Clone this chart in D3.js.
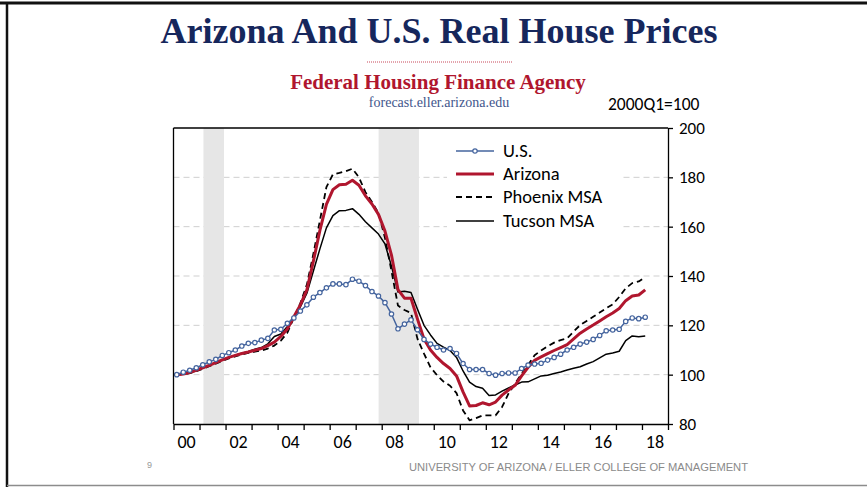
<!DOCTYPE html>
<html>
<head>
<meta charset="utf-8">
<script src="https://cdn.jsdelivr.net/npm/d3@7/dist/d3.min.js"></script>
<style>
  html, body { margin: 0; padding: 0; background: #fff; }
  svg { display: block; }
  .calib { font-family: Carlito, Lato, "Open Sans", sans-serif; fill: #000; }
  .serif { font-family: "Liberation Serif", "Times New Roman", serif; }
</style>
</head>
<body>
<svg id="chart" width="867" height="487"></svg>
<script>
// quarterly index, 2000Q1 = 100, 2000Q1 .. 2018Q1
var startYear = 2000;
var xTickLabels = ['00', '02', '04', '06', '08', '10', '12', '14', '16', '18'];
var yTickValues = [80, 100, 120, 140, 160, 180, 200];
var gridValues = [100, 120, 140, 160, 180];
var recessions = [[2001.15, 2001.94], [2007.88, 2009.43]];

var usValues = [
  100.0, 101.0, 101.8, 102.8, 104.0, 105.2, 106.2, 107.8, 108.9, 110.0,
  111.6, 112.7, 113.0, 114.0, 114.7, 118.1, 118.4, 120.8, 123.0, 125.8,
  128.3, 131.4, 133.3, 135.2, 136.8, 136.8, 136.5, 138.7, 137.9, 136.1,
  133.7, 131.9, 129.2, 124.6, 118.6, 120.5, 122.2, 118.2, 114.3, 112.4,
  111.1, 110.0, 110.6, 108.6, 104.5, 102.1, 102.1, 102.1, 100.5, 99.8,
  100.5, 100.7, 100.7, 102.5, 103.9, 104.3, 104.6, 105.9, 107.0, 108.3,
  110.0, 111.1, 112.4, 113.2, 114.3, 115.9, 117.8, 118.1, 118.4, 121.6,
  123.0, 122.7, 123.3
];
var arizonaValues = [
  100.0, 100.3, 100.9, 101.8, 102.8, 103.8, 104.9, 106.0, 107.0, 107.8,
  108.6, 109.2, 109.9, 110.6, 111.8, 113.2, 115.5, 118.5, 123.5, 128.3,
  134.4, 146.0, 158.5, 169.0, 175.0, 177.0, 177.2, 178.8, 176.8, 172.5,
  169.2, 165.0, 158.2, 148.5, 134.5, 131.0, 131.0, 122.5, 114.5, 110.0,
  107.0, 104.5, 102.5, 99.5, 93.0, 87.3, 87.5, 88.6, 87.8, 88.9,
  91.7, 93.8, 95.7, 99.5, 103.0, 105.8, 107.2, 108.5, 109.8, 111.0,
  112.2, 114.5, 116.8, 118.5, 120.1, 121.8, 123.5, 125.0, 126.8, 130.0,
  131.9, 132.3, 134.4
];
var phoenixValues = [
  100.0, 100.2, 100.6, 101.4, 102.4, 103.4, 104.5, 105.6, 106.6, 107.4,
  108.2, 108.8, 109.3, 109.8, 110.6, 111.8, 113.8, 117.0, 123.0, 129.0,
  136.5, 149.0, 162.5, 176.0, 181.2, 181.8, 182.5, 183.5, 180.0, 174.0,
  170.0, 165.5, 155.5, 142.0, 128.0, 126.2, 125.0, 114.5, 108.5, 103.0,
  99.8, 97.2, 95.5, 92.5, 85.5, 81.5, 82.4, 83.5, 83.5, 83.5,
  86.9, 92.4, 96.4, 100.3, 103.9, 107.9, 109.8, 111.5, 113.0, 114.0,
  114.7, 117.5, 120.1, 121.8, 123.5, 125.2, 126.9, 128.5, 131.5, 135.0,
  137.1, 137.8, 139.5
];
var tucsonValues = [
  100.0, 100.2, 100.7, 101.6, 102.7, 103.8, 104.9, 106.0, 107.0, 107.9,
  108.7, 109.4, 110.3, 111.0, 112.5, 115.5, 116.5, 119.5, 123.0, 127.5,
  133.0, 142.0, 151.0, 159.5, 164.5, 166.5, 166.6, 167.3, 165.0, 162.0,
  159.5, 157.0, 153.0, 144.0, 133.5, 133.8, 133.3, 126.5, 120.0, 116.1,
  112.7, 111.2, 109.8, 107.0, 101.5, 97.0, 95.2, 94.5, 91.6, 91.8,
  93.3, 94.6, 95.8, 97.0, 97.1, 98.3, 99.5, 99.8, 100.5, 101.1,
  101.9, 102.6, 103.2, 104.3, 105.3, 106.8, 108.3, 108.8, 109.5, 113.8,
  115.7, 115.4, 115.7
];

var seriesList = [
  { name: 'U.S.', values: usValues, color: '#44649e', width: 1.5, dash: null, markers: true },
  { name: 'Arizona', values: arizonaValues, color: '#b0162e', width: 3, dash: null, markers: false },
  { name: 'Phoenix MSA', values: phoenixValues, color: '#000', width: 1.8, dash: '6,4', markers: false },
  { name: 'Tucson MSA', values: tucsonValues, color: '#000', width: 1.5, dash: null, markers: false }
];

var svg = d3.select('#chart');
var plot = { left: 173.5, right: 668, top: 128, bottom: 424 };

var x = d3.scaleLinear().domain([startYear, 2019]).range([plot.left, plot.right]);
var y = d3.scaleLinear().domain([80, 200]).range([plot.bottom, plot.top]);

// quarter i sits in the middle of its quarter
function qTime(i) { return startYear + i / 4 + 0.125; }

// ---- page frame ----
svg.append('line').attr('x1', 0).attr('x2', 867).attr('y1', 3).attr('y2', 3)
  .attr('stroke', '#111').attr('stroke-width', 3);
svg.append('line').attr('x1', 7).attr('x2', 7).attr('y1', 2).attr('y2', 487)
  .attr('stroke', '#111').attr('stroke-width', 2.5);
svg.append('line').attr('x1', 7).attr('x2', 867).attr('y1', 485.5).attr('y2', 485.5)
  .attr('stroke', '#8c8c8c').attr('stroke-width', 1.5);

// ---- titles ----
svg.append('text').attr('class', 'serif')
  .attr('x', 439).attr('y', 43).attr('text-anchor', 'middle')
  .attr('font-size', 36).attr('font-weight', 'bold').attr('fill', '#16275c')
  .text('Arizona And U.S. Real House Prices');

svg.append('line').attr('x1', 367).attr('x2', 512).attr('y1', 62).attr('y2', 62)
  .attr('stroke', '#c8485a').attr('stroke-width', 1).attr('stroke-dasharray', '1,1');

svg.append('text').attr('class', 'serif')
  .attr('x', 438).attr('y', 89).attr('text-anchor', 'middle')
  .attr('font-size', 21).attr('font-weight', 'bold').attr('fill', '#b0162e')
  .text('Federal Housing Finance Agency');

svg.append('text').attr('class', 'serif')
  .attr('x', 439).attr('y', 107).attr('text-anchor', 'middle')
  .attr('font-size', 14).attr('fill', '#42568c')
  .text('forecast.eller.arizona.edu');

svg.append('text').attr('class', 'calib')
  .attr('x', 608).attr('y', 110).attr('font-size', 17.5)
  .text('2000Q1=100');

// ---- gridlines, then recession bars over them ----
svg.append('g').selectAll('line').data(gridValues).join('line')
  .attr('x1', plot.left).attr('x2', plot.right)
  .attr('y1', function(d) { return y(d); }).attr('y2', function(d) { return y(d); })
  .attr('stroke', '#cfcfcf').attr('stroke-width', 1).attr('stroke-dasharray', '6,4');

svg.append('g').selectAll('rect').data(recessions).join('rect')
  .attr('x', function(d) { return x(d[0]); })
  .attr('width', function(d) { return x(d[1]) - x(d[0]); })
  .attr('y', plot.top).attr('height', plot.bottom - plot.top)
  .attr('fill', '#e6e6e6');

// legend box hides the gridlines behind it
var legendBox = { x: 447, y: 137, w: 174, h: 95 };
svg.append('rect').attr('x', legendBox.x).attr('y', legendBox.y)
  .attr('width', legendBox.w).attr('height', legendBox.h).attr('fill', '#fff');

// ---- series ----
var line = d3.line()
  .x(function(d, i) { return x(qTime(i)); })
  .y(function(d) { return y(d); });

var drawOrder = [3, 2, 1, 0]; // tucson, phoenix, arizona, us on top
drawOrder.forEach(function(k) {
  var s = seriesList[k];
  svg.append('path').datum(s.values)
    .attr('d', line)
    .attr('fill', 'none')
    .attr('stroke', s.color)
    .attr('stroke-width', s.width)
    .attr('stroke-linejoin', 'round')
    .attr('stroke-dasharray', s.dash);
  if (s.markers) {
    svg.append('g').selectAll('circle').data(s.values).join('circle')
      .attr('cx', function(d, i) { return x(qTime(i)); })
      .attr('cy', function(d) { return y(d); })
      .attr('r', 2.2)
      .attr('fill', '#fff')
      .attr('stroke', s.color)
      .attr('stroke-width', 1.2);
  }
});

// ---- frame + axes ----
svg.append('line').attr('x1', plot.left).attr('x2', plot.left)
  .attr('y1', plot.top).attr('y2', plot.bottom).attr('stroke', '#000').attr('stroke-width', 1.3);
svg.append('line').attr('x1', plot.left).attr('x2', plot.right)
  .attr('y1', plot.top).attr('y2', plot.top).attr('stroke', '#000').attr('stroke-width', 1.3);

var yAxis = d3.axisRight(y).tickValues(yTickValues).tickSize(5).tickSizeOuter(0).tickPadding(6);
var yG = svg.append('g').attr('transform', 'translate(' + plot.right + ',0)').call(yAxis);
yG.select('.domain').attr('stroke', '#000').attr('stroke-width', 1.3);
yG.selectAll('.tick line').attr('stroke', '#000').attr('stroke-width', 1.3);
yG.selectAll('text').attr('class', 'calib').attr('font-size', 17).attr('fill', '#000');

var xAxis = d3.axisBottom(x).tickValues(d3.range(startYear, 2020)).tickSize(6).tickSizeOuter(0).tickFormat('');
var xG = svg.append('g').attr('transform', 'translate(0,' + plot.bottom + ')').call(xAxis);
xG.select('.domain').attr('stroke', '#000').attr('stroke-width', 1.3);
xG.selectAll('.tick line').attr('stroke', '#000').attr('stroke-width', 1.3);

// year labels sit between the ticks
svg.append('g').selectAll('text').data(xTickLabels).join('text')
  .attr('class', 'calib')
  .attr('x', function(d, i) { return x(startYear + i * 2 + 0.5); })
  .attr('y', 448)
  .attr('text-anchor', 'middle')
  .attr('font-size', 18)
  .text(function(d) { return d; });

// ---- legend ----
var legendRows = [151, 174, 197, 221];
var lg = svg.append('g');
seriesList.forEach(function(s, k) {
  var ly = legendRows[k];
  lg.append('line').attr('x1', 456).attr('x2', 494).attr('y1', ly).attr('y2', ly)
    .attr('stroke', s.color).attr('stroke-width', s.width).attr('stroke-dasharray', s.dash);
  if (s.markers) {
    lg.append('circle').attr('cx', 475).attr('cy', ly).attr('r', 2.2)
      .attr('fill', '#fff').attr('stroke', s.color).attr('stroke-width', 1.2);
  }
  lg.append('text').attr('class', 'calib')
    .attr('x', 503).attr('y', ly).attr('dy', '0.35em')
    .attr('font-size', 18.5)
    .text(s.name);
});

// ---- footer ----
svg.append('text').attr('x', 147).attr('y', 468)
  .attr('font-family', 'Liberation Sans, Arial, sans-serif')
  .attr('font-size', 9).attr('fill', '#999').text('9');
svg.append('text').attr('x', 409).attr('y', 471)
  .attr('font-family', 'Liberation Sans, Arial, sans-serif')
  .attr('font-size', 11.5).attr('fill', '#8a8a8a')
  .attr('textLength', 339).attr('lengthAdjust', 'spacingAndGlyphs')
  .text('UNIVERSITY OF ARIZONA / ELLER COLLEGE OF MANAGEMENT');
</script>
</body>
</html>
